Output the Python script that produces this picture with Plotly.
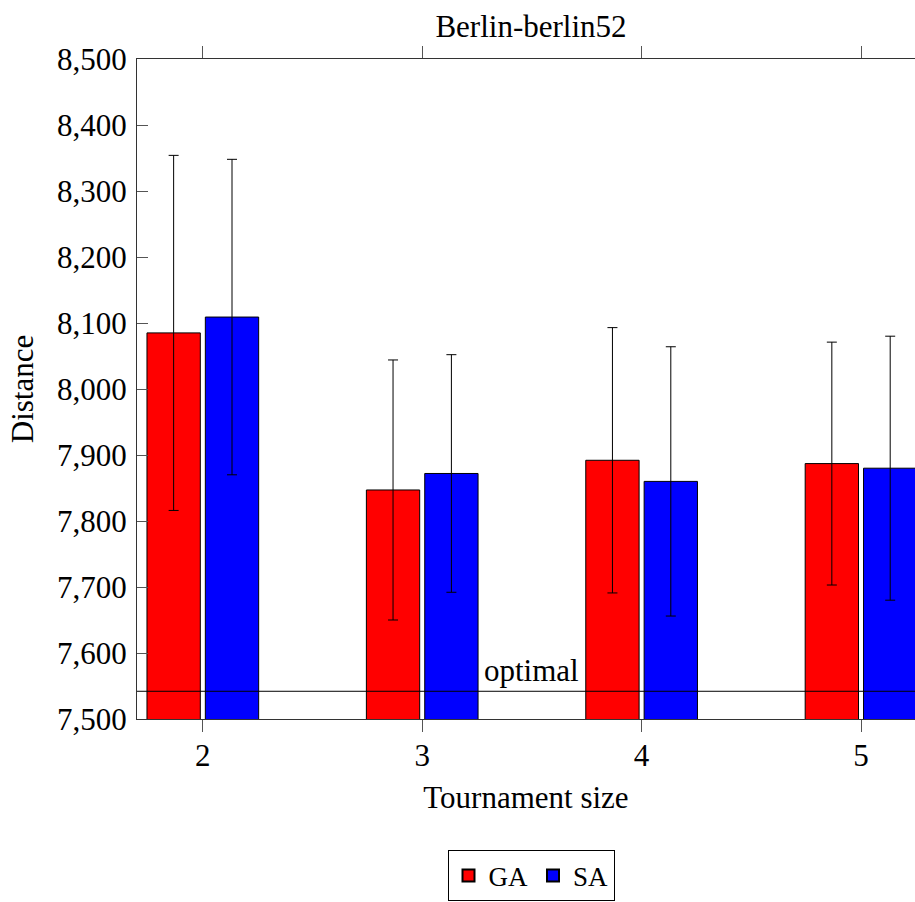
import plotly.graph_objects as go

# ---- data ----
tournament_sizes = [2, 3, 4, 5]
ga_mean = [8085, 7847, 7892, 7887]
ga_err = [269, 197, 201, 184]
sa_mean = [8109, 7872, 7860, 7880]
sa_err = [239, 180, 204, 200]
optimal_value = 7542
y_ticks = [7500, 7600, 7700, 7800, 7900, 8000, 8100, 8200, 8300, 8400, 8500]

FONT = "Liberation Serif, Times New Roman, serif"
FS = 31

W, H = 915, 902
ML, MT, MB = 137, 59, 180
px_per_unit = 219.4
plot_w = W - ML
plot_h = H - MT - MB
x_lo = 1.7
x_hi = x_lo + plot_w / px_per_unit

bar_w = 0.243

fig = go.Figure()
fig.add_trace(go.Bar(
    x=tournament_sizes, y=ga_mean, name="GA",
    width=bar_w, offset=-0.2545,
    marker=dict(color="#ff0000", line=dict(color="black", width=1)),
    error_y=dict(type="data", array=ga_err, visible=True, color="black", thickness=1, width=5),
))
fig.add_trace(go.Bar(
    x=tournament_sizes, y=sa_mean, name="SA",
    width=bar_w, offset=0.0115,
    marker=dict(color="#0000ff", line=dict(color="black", width=1)),
    error_y=dict(type="data", array=sa_err, visible=True, color="black", thickness=1, width=5),
))

fig.add_shape(type="line", xref="paper", x0=0, x1=1, yref="y", y0=optimal_value, y1=optimal_value,
              line=dict(color="black", width=1), layer="above")
fig.add_annotation(x=3.5, y=optimal_value, xref="x", yref="y", text="optimal",
                   showarrow=False, yanchor="bottom", yshift=1,
                   font=dict(family=FONT, size=FS, color="black"))

fig.update_layout(
    width=W, height=H,
    margin=dict(l=ML, r=0, t=MT, b=MB, pad=0),
    plot_bgcolor="white", paper_bgcolor="white",
    barmode="overlay",
    font=dict(family=FONT, size=FS, color="black"),
    title=dict(text="Berlin-berlin52", x=(531 - ML) / plot_w, xref="paper", xanchor="center",
               y=1 - 26 / H, yref="container", yanchor="middle",
               font=dict(family=FONT, size=FS, color="black")),
    showlegend=True,
    legend=dict(orientation="h", x=(531 - ML) / plot_w, xanchor="center",
                y=-(854 - (H - MB)) / plot_h, yanchor="top",
                bordercolor="black", borderwidth=1, bgcolor="white",
                font=dict(family=FONT, size=27, color="black"),
                itemsizing="constant"),
)
fig.update_xaxes(
    range=[x_lo, x_hi], tickvals=tournament_sizes, ticktext=[str(v) for v in tournament_sizes],
    ticks="outside", ticklen=12, tickcolor="#555", tickwidth=1,
    showline=True, linecolor="#333", linewidth=1, mirror="ticks",
    showgrid=False, zeroline=False, ticklabelstandoff=-3,
    title=dict(text="Tournament size", standoff=14, font=dict(family=FONT, size=FS)),
)
fig.update_yaxes(
    range=[7500, 8500], tickvals=y_ticks, tickformat=",d",
    ticks="inside", ticklen=11, tickcolor="#555", tickwidth=1,
    showline=True, linecolor="#333", linewidth=1, mirror=False,
    showgrid=False, zeroline=False, ticklabelstandoff=3,
    title=dict(text="Distance", standoff=14, font=dict(family=FONT, size=FS)),
)

fig.write_html("out.html")
